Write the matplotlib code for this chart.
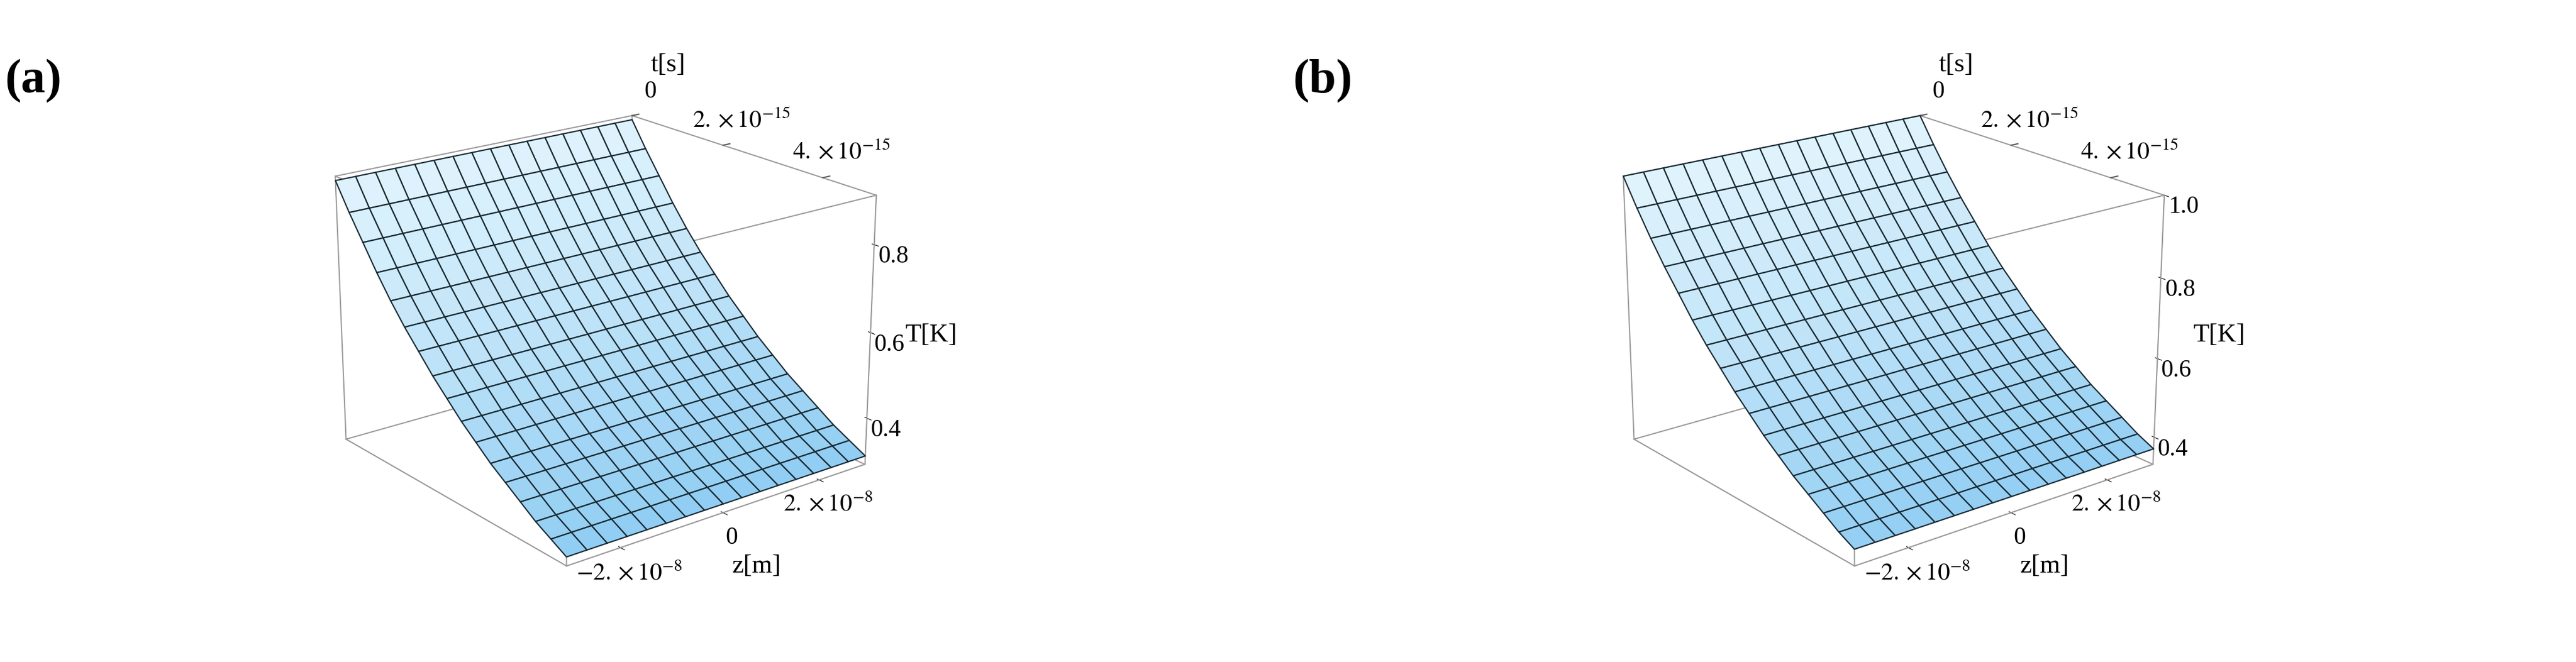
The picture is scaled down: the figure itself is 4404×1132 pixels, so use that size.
import numpy as np
import matplotlib.pyplot as plt
from matplotlib.colors import LinearSegmentedColormap

plt.rcParams['font.family'] = ['Liberation Serif', 'DejaVu Serif']
plt.rcParams['mathtext.fontset'] = 'stix'

# time grid (s) and temperature profiles (T independent of z)
t_vals = np.linspace(0, 5e-15, 17)
z_vals = np.linspace(-3e-8, 3e-8, 17)
T_a = [0.90, 0.84, 0.785, 0.73, 0.68, 0.635, 0.595, 0.555, 0.52, 0.485,
       0.455, 0.425, 0.40, 0.375, 0.35, 0.33, 0.31]
T_b = [1.00, 0.935, 0.875, 0.82, 0.77, 0.72, 0.675, 0.635, 0.595, 0.56,
       0.525, 0.495, 0.465, 0.44, 0.415, 0.39, 0.37]
t_ticks = [0, 2e-15, 4e-15]
t_labels = ["0", r"$2.\times10^{-15}$", r"$4.\times10^{-15}$"]

panels = [("(a)", T_a, (0.29, 0.91), [0.4, 0.6, 0.8], ["0.4", "0.6", "0.8"]),
          ("(b)", T_b, (0.33, 1.0), [0.4, 0.6, 0.8, 1.0], ["0.4", "0.6", "0.8", "1.0"])]

blues = LinearSegmentedColormap.from_list("mm", ["#8ccbf2", "#bfe3f8", "#dff3fd"])

fig = plt.figure(figsize=(44.04, 11.32), dpi=100)

for i, (tag, T, tlim, zt, ztl) in enumerate(panels):
    ax = fig.add_axes([i * 0.5 - 0.03, -0.04, 0.52, 1.08], projection='3d')
    ax.set_proj_type('persp', focal_length=0.6)
    tt, zz = np.meshgrid(t_vals, z_vals)
    TT = np.tile(np.array(T), (len(z_vals), 1))
    norm = (TT - tlim[0]) / (tlim[1] - tlim[0])
    ax.plot_surface(tt, zz, TT, facecolors=blues(norm), edgecolor='#1a2a33',
                    linewidth=1.6, shade=False, antialiased=True)

    # bounding box
    x0, x1 = 0, 5e-15
    y0, y1 = -3e-8, 3e-8
    for a in (x0, x1):
        for b in (y0, y1):
            ax.plot([a, a], [b, b], tlim, color='#999999', lw=1.5)
    for a in (x0, x1):
        for c in tlim:
            ax.plot([a, a], [y0, y1], [c, c], color='#999999', lw=1.5)
    for b in (y0, y1):
        for c in tlim:
            ax.plot([x0, x1], [b, b], [c, c], color='#999999', lw=1.5)

    ax.set_xlim(x0, x1)
    ax.set_ylim(y0, y1)
    ax.set_zlim(*tlim)
    ax.set_box_aspect((1, 1, 0.75), zoom=0.82)
    ax.view_init(elev=20, azim=-38)
    ax.grid(False)
    for axis in (ax.xaxis, ax.yaxis, ax.zaxis):
        axis.pane.fill = False
        axis.pane.set_edgecolor('none')
        axis.line.set_color('#777777')

    # t ticks drawn along the top back edge, as in the reference
    ax.set_xticks([])
    for tv, tl in zip(t_ticks, t_labels):
        ax.plot([tv, tv], [y1, y1 + 1.5e-9], [tlim[1], tlim[1]], color='#555555', lw=1.5)
        ax.text(tv, y1 + 4e-9, tlim[1] + 0.035 * (tlim[1] - tlim[0]), tl,
                fontsize=30, ha='center', va='bottom')
    ax.text(0.4e-15, y1 + 4e-9, tlim[1] + 0.16 * (tlim[1] - tlim[0]), "t[s]",
            fontsize=32, ha='center', va='bottom')

    ax.set_yticks([-2e-8, 0, 2e-8])
    ax.set_yticklabels([r"$-2.\times10^{-8}$", "0", r"$2.\times10^{-8}$"])
    ax.set_zticks(zt)
    ax.set_zticklabels(ztl)
    ax.tick_params(labelsize=30, pad=8)
    ax.set_ylabel("z[m]", fontsize=32, labelpad=40)
    ax.set_zlabel("T[K]", fontsize=32, labelpad=30)

    fig.text(i * 0.5 + 0.002, 0.86, tag, fontsize=60, fontweight='bold')

fig.savefig("out.png", dpi=100)
